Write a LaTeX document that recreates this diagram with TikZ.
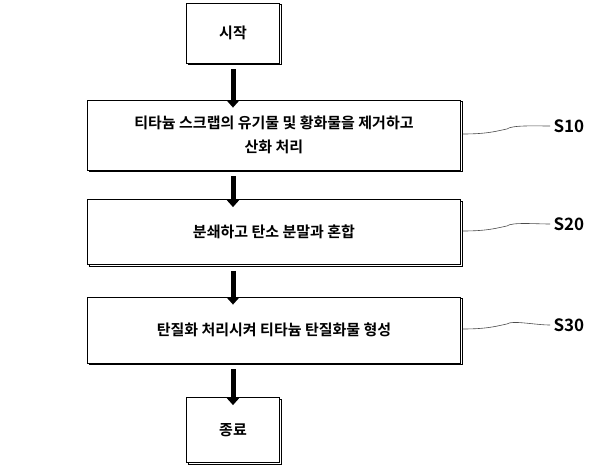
\documentclass[tikz,border=0pt]{standalone}
\usepackage{fontspec}
\setmainfont{Noto Sans CJK KR Bold}
\usetikzlibrary{arrows.meta,shadows}
\tikzset{
    step box/.style={draw,line width=0.8pt,fill=white,align=center,font=\fontsize{15}{24}\selectfont,
        copy shadow={shadow xshift=1.5pt,shadow yshift=-1.5pt,draw=black,line width=0.8pt}},
    flow arrow/.style={line width=5pt,-{Triangle[length=7pt,width=12pt]}},
    tag line/.style={line width=0.6pt,draw=black!70},
    tag/.style={font=\fontsize{17}{20}\selectfont}
    }
\begin{document}
\begin{tikzpicture}[x=1pt,y=-1pt]
    \useasboundingbox (0,0) rectangle (600,468);
    % Boxes
    \node(start)[step box,minimum width=93pt,minimum height=60pt] at (233,33){시작};
    \node(s10)[step box,minimum width=373pt,minimum height=70pt] at (274,135)
        {티타늄 스크랩의 유기물 및 황화물을 제거하고\\산화 처리};
    \node(s20)[step box,minimum width=373pt,minimum height=65pt] at (274,232){분쇄하고 탄소 분말과 혼합};
    \node(s30)[step box,minimum width=373pt,minimum height=66pt] at (274,330){탄질화 처리시켜 티타늄 탄질화물 형성};
    \node(end)[step box,minimum width=93pt,minimum height=65pt] at (233,430){종료};
    % Arrows
    \draw[flow arrow] ([yshift=-6pt]start.south) -- ([yshift=-8pt]s10.north -| start.south);
    \draw[flow arrow] ([yshift=-6pt]s10.south -| start.south) -- ([yshift=-8pt]s20.north -| start.south);
    \draw[flow arrow] ([yshift=-6pt]s20.south -| start.south) -- ([yshift=-8pt]s30.north -| start.south);
    \draw[flow arrow] ([yshift=-6pt]s30.south -| start.south) -- ([yshift=-8pt]end.north);
    % Labels
    \foreach \b/\t/\y in {s10/S10/126,s20/S20/224,s30/S30/325}{
        \node(l\b)[tag,anchor=west] at (550,\y){\t};
        \draw[tag line] ([xshift=2pt,yshift=1pt]\b.east) .. controls +(25,0) and +(-10,2) .. +(44,-5)
            .. controls +(5,-4) and +(-15,0) .. (l\b.west);
    }
\end{tikzpicture}
\end{document}
